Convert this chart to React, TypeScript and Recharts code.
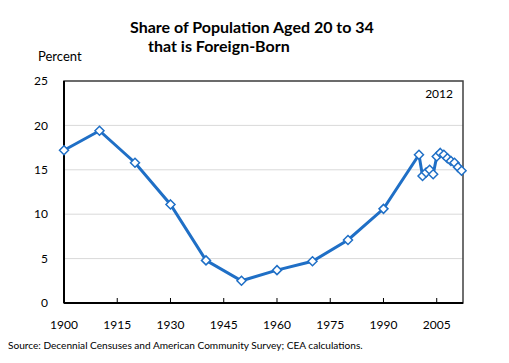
import React from "react";
import {
  LineChart,
  Line,
  XAxis,
  YAxis,
  CartesianGrid,
  ReferenceArea,
} from "recharts";

const years = [1900, 1910, 1920, 1930, 1940, 1950, 1960, 1970, 1980, 1990, 2000, 2001, 2002, 2003, 2004, 2005, 2006, 2007, 2008, 2009, 2010, 2011, 2012];
const shares = [17.2, 19.4, 15.8, 11.1, 4.8, 2.5, 3.7, 4.7, 7.1, 10.6, 16.7, 14.3, 14.7, 15.0, 14.5, 16.5, 16.9, 16.7, 16.3, 16.0, 15.8, 15.3, 14.9];
const xTicks = [1900, 1915, 1930, 1945, 1960, 1975, 1990, 2005];
const yTicks = [0, 5, 10, 15, 20, 25];

const data = years.map((y, i) => ({ year: y, share: shares[i] }));

const FONT = "Lato, 'Open Sans', sans-serif";
const BLUE = "#1f6fc6";

const Diamond = (props: any) => {
  const { cx, cy } = props;
  if (cx == null || cy == null) return null;
  const r = 4.5;
  return (
    <path
      d={`M${cx},${cy - r} L${cx + r},${cy} L${cx},${cy + r} L${cx - r},${cy} Z`}
      fill="#ffffff"
      stroke={BLUE}
      strokeWidth={1.5}
    />
  );
};

const XTick = (props: any) => {
  const { x, y, payload } = props;
  return (
    <g>
      <line x1={x} y1={y} x2={x} y2={y - 5} stroke="#000" strokeWidth={1} />
      <text x={x} y={y + 26} textAnchor="middle" fontSize={12} fill="#000" fontFamily={FONT}>
        {payload.value}
      </text>
    </g>
  );
};

export default function App() {
  return (
    <div style={{ position: "absolute", left: 0, top: 0, width: 509, height: 363, background: "#fff" }}>
      <svg width={509} height={363} style={{ position: "absolute", left: 0, top: 0 }}>
        <text x={130} y={33} fontSize={16} fontWeight="bold" fontFamily={FONT} fill="#000">
          Share of Population Aged 20 to 34
        </text>
        <text x={148} y={52} fontSize={16} fontWeight="bold" fontFamily={FONT} fill="#000">
          that is Foreign-Born
        </text>
        <text x={38} y={61} fontSize={13} fontFamily={FONT} fill="#000">
          Percent
        </text>
        <text x={8} y={349} fontSize={10.1} fontFamily={FONT} fill="#000">
          Source: Decennial Censuses and American Community Survey; CEA calculations.
        </text>
      </svg>
      <div style={{ position: "absolute", left: 0, top: 0 }}>
        <LineChart
          width={509}
          height={363}
          data={data}
          margin={{ top: 81, right: 46, bottom: 0, left: 0 }}
        >
          <CartesianGrid horizontal vertical={false} stroke="#d9d9d9" strokeWidth={1} />
          <XAxis
            dataKey="year"
            type="number"
            domain={[1900, 2012.4]}
            ticks={xTicks}
            tickLine={false}
            tickSize={0}
            tickMargin={0}
            tick={<XTick />}
            axisLine={{ stroke: "#000", strokeWidth: 2 }}
            height={60}
            interval={0}
          />
          <YAxis
            type="number"
            domain={[0, 25]}
            ticks={yTicks}
            tickLine={false}
            tickSize={0}
            tickMargin={16}
            width={64}
            axisLine={{ stroke: "#000", strokeWidth: 2 }}
            tick={{ fontSize: 12, fill: "#000", fontFamily: FONT }}
            interval={0}
          />
          <ReferenceArea
            x1={1900}
            x2={2012.4}
            y1={0}
            y2={25}
            fill="none"
            fillOpacity={0}
            stroke="#404040"
            strokeWidth={1.5}
          />
          <Line
            type="linear"
            dataKey="share"
            stroke={BLUE}
            strokeWidth={3}
            dot={<Diamond />}
            isAnimationActive={false}
          />
        </LineChart>
      </div>
      <svg width={509} height={363} style={{ position: "absolute", left: 0, top: 0, pointerEvents: "none" }}>
        <text x={453} y={98} textAnchor="end" fontSize={12} fontFamily={FONT} fill="#000">
          2012
        </text>
      </svg>
    </div>
  );
}
